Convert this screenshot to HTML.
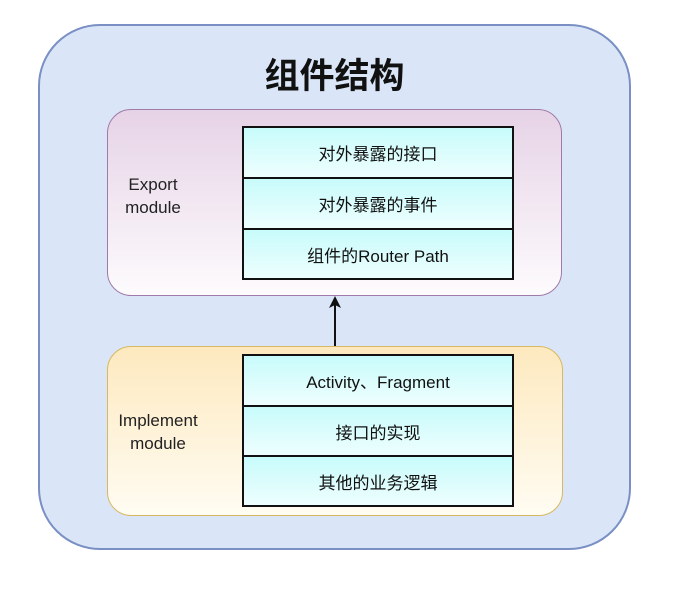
<!DOCTYPE html>
<html><head><meta charset="utf-8"><style>
body{margin:0;width:678px;height:589px;background:#fff;position:relative;overflow:hidden;font-family:"Liberation Sans","Noto Sans CJK SC",sans-serif;}
.a{position:absolute;box-sizing:border-box}
.outer{left:38px;top:24px;width:593px;height:526px;border:2px solid #7a90c4;border-radius:62px;background:#dae6f8}
.title{left:38px;width:593px;top:48px;text-align:center;font-size:35px;font-weight:bold;color:#111}
.exp{left:107px;top:109px;width:455px;height:187px;border:1.5px solid #a07aa8;border-radius:24px;background:linear-gradient(#e6d3e6,#fdfbfd)}
.imp{left:107px;top:346px;width:456px;height:170px;border:1.5px solid #d8b860;border-radius:24px;background:linear-gradient(#fde9bf,#fffcf2)}
.row{left:242px;width:272px;border:2px solid #111;background:linear-gradient(#c8fbfb,#eefefe);text-align:center;font-size:17px;color:#111;display:flex;align-items:center;justify-content:center}
.lbl{font-size:17px;color:#222;text-align:center;line-height:23px}
</style></head><body>
<div class="a outer"></div>
<div class="a title">组件结构</div>
<div class="a exp"></div>
<div class="a imp"></div>
<div class="a lbl" style="left:113px;top:173px;width:80px">Export<br>module</div>
<div class="a lbl" style="left:103px;top:409px;width:110px">Implement<br>module</div>
<div class="a row" style="top:126px;height:53px">对外暴露的接口</div>
<div class="a row" style="top:177px;height:53px">对外暴露的事件</div>
<div class="a row" style="top:228px;height:52px">组件的Router Path</div>
<div class="a row" style="top:354px;height:53px">Activity、Fragment</div>
<div class="a row" style="top:405px;height:52px">接口的实现</div>
<div class="a row" style="top:455px;height:52px">其他的业务逻辑</div>
<svg class="a" style="left:0;top:0" width="678" height="589"><line x1="335" y1="346" x2="335" y2="305" stroke="#111" stroke-width="2"/><polygon points="335,296 329,308 335,305 341,308" fill="#111"/></svg>
</body></html>
